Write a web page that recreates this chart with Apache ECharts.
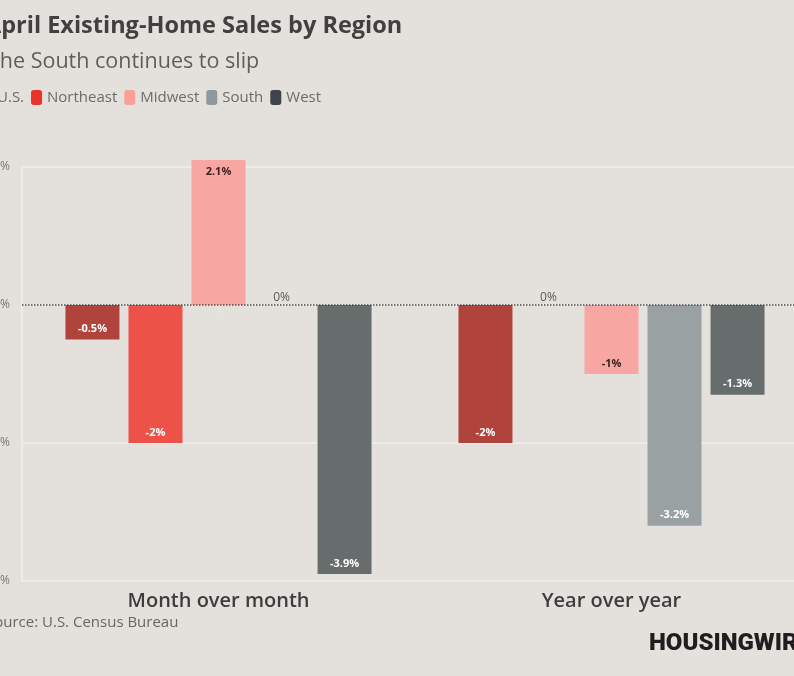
<!DOCTYPE html>
<html>
<head>
<meta charset="utf-8">
<script src="https://cdn.jsdelivr.net/npm/echarts@6/dist/echarts.min.js"></script>
<style>
  html, body { margin: 0; padding: 0; background: #e4e1dc; }
  #chart { width: 794px; height: 676px; }
</style>
</head>
<body>
<div id="chart"></div>
<script>
var categories = ['Month over month', 'Year over year']
var regions = ['U.S.', 'Northeast', 'Midwest', 'South', 'West']
var usVals = [-0.5, -2]
var northeastVals = [-2, 0]
var midwestVals = [2.1, -1]
var southVals = [0, -3.2]
var westVals = [-3.9, -1.3]
var yMin = -4, yMax = 2, yStep = 2

var barColors = ['#b0433b', '#ec5248', '#f8a6a1', '#9aa1a3', '#676c6c']
var legendColors = ['#a8231c', '#e8332b', '#fa9f9a', '#8e999e', '#3e4447']
var labelColors = ['#ffffff', '#ffffff', '#3a2222', '#ffffff', '#ffffff']
var allVals = [usVals, northeastVals, midwestVals, southVals, westVals]

var font = 'Open Sans'

function makeData(vals, idx) {
  var out = []
  for (var i = 0; i < vals.length; i++) {
    var v = vals[i]
    var lab
    if (v == 0) {
      lab = { position: 'top', distance: 1, color: '#5a5a5a', fontWeight: 'normal', fontSize: 12 }
    } else if (v > 0) {
      lab = { position: 'insideTop', distance: 6, color: labelColors[idx] }
    } else {
      lab = { position: 'insideBottom', distance: 5, color: labelColors[idx] }
    }
    out.push({ value: v, label: lab })
  }
  return out
}

var series = []
for (var s = 0; s < regions.length; s++) {
  var item = {
    name: regions[s],
    type: 'bar',
    barWidth: 54,
    barGap: '16.7%',
    clip: false,
    itemStyle: { color: barColors[s] },
    label: {
      show: true,
      fontFamily: font,
      fontSize: 11,
      fontWeight: 'bold',
      formatter: function (p) { return p.value + '%' }
    },
    data: makeData(allVals[s], s)
  }
  if (s == 0) {
    // dotted zero line
    item.markLine = {
      silent: true,
      symbol: 'none',
      label: { show: false },
      lineStyle: { color: '#4a4a4a', type: 'dotted', width: 1.5 },
      data: [{ yAxis: 0 }]
    }
  }
  series.push(item)
}

var legendData = []
for (var k = 0; k < regions.length; k++) {
  legendData.push({ name: regions[k], itemStyle: { color: legendColors[k] } })
}

var myChart = echarts.init(document.getElementById('chart'))
var option = {
  backgroundColor: '#e4e1dc',
  animation: false,
  title: [
    {
      text: 'April Existing-Home Sales by Region',
      left: -20, top: 9,
      textStyle: { fontFamily: font, fontSize: 23.5, fontWeight: 'bold', color: '#404040' }
    },
    {
      text: 'The South continues to slip',
      left: -17, top: 46,
      textStyle: { fontFamily: font, fontSize: 21.5, fontWeight: 'normal', color: '#5e5e5e' }
    },
    {
      text: 'Source: U.S. Census Bureau',
      left: -19, top: 610,
      textStyle: { fontFamily: font, fontSize: 15, fontWeight: 'normal', color: '#666' }
    },
    {
      text: 'HOUSINGWIRE',
      left: 644, top: 627,
      textStyle: { fontFamily: 'Roboto', fontSize: 24, fontWeight: 900, color: '#1e1e1e' }
    }
  ],
  legend: {
    data: legendData,
    left: -19, top: 90,
    padding: 0,
    icon: 'roundRect',
    itemWidth: 11, itemHeight: 15,
    itemGap: 7,
    textStyle: { fontFamily: font, fontSize: 15, color: '#6b6b6b' }
  },
  grid: { left: 22, right: -14, top: 167, bottom: 95, containLabel: false, outerBoundsMode: 'none' },
  xAxis: {
    type: 'category',
    data: categories,
    axisLine: { show: true, lineStyle: { color: '#eeece8', width: 2 } },
    axisTick: { show: true, alignWithLabel: true, length: 8, lineStyle: { color: '#eeece8' } },
    axisLabel: { fontFamily: font, fontSize: 20, fontWeight: 600, color: '#3d3d3d', margin: 10 }
  },
  yAxis: {
    type: 'value',
    min: yMin, max: yMax, interval: yStep,
    axisLine: { show: true, lineStyle: { color: '#eeece8', width: 2 } },
    axisTick: { show: false },
    splitLine: { lineStyle: { color: '#eeece8', width: 2 } },
    axisLabel: { fontFamily: font, fontSize: 12, color: '#777', margin: 12, formatter: '{value}%' }
  },
  series: series
}
myChart.setOption(option)
</script>
</body>
</html>
